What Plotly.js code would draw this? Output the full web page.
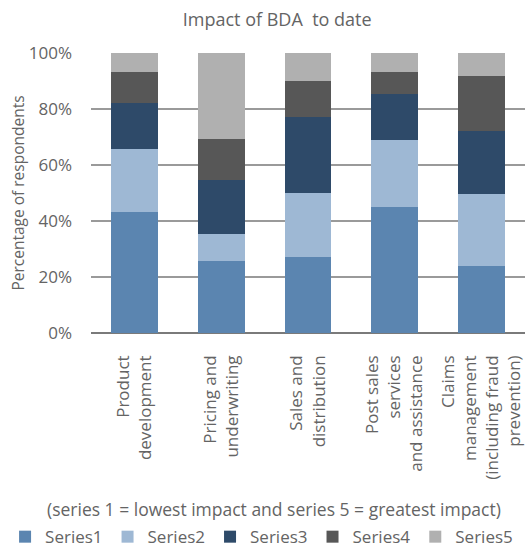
<!DOCTYPE html>
<html>
<head>
<meta charset="utf-8">
<script src="https://cdn.plot.ly/plotly-3.0.1.min.js"></script>
<style>
  html, body { margin: 0; padding: 0; background: #ffffff; }
  #chart { width: 530px; height: 557px; }
</style>
</head>
<body>
<div id="chart"></div>
<script>
// Business areas (x categories)
const categories = [
  "Product<br>development",
  "Pricing and<br>underwriting",
  "Sales and<br>distribution",
  "Post sales<br>services<br>and assistance",
  "Claims<br>management<br>(including fraud<br>prevention)"
];

// Share of respondents per impact level (fractions of 1)
const series1 = [0.432, 0.257, 0.271, 0.450, 0.239];
const series2 = [0.225, 0.096, 0.229, 0.240, 0.257];
const series3 = [0.165, 0.194, 0.272, 0.164, 0.226];
const series4 = [0.111, 0.146, 0.129, 0.079, 0.197];
const series5 = [0.067, 0.307, 0.099, 0.067, 0.081];

const seriesNames = ["Series1", "Series2", "Series3", "Series4", "Series5"];
const seriesColors = ["#5b85b0", "#9eb8d4", "#2e4a69", "#575757", "#b0b0b0"];

const yTickVals = [0, 0.2, 0.4, 0.6, 0.8, 1.0];
const yTickText = ["0%", "20%", "40%", "60%", "80%", "100%"];

const FONT = "Open Sans, Lato, sans-serif";
const TEXT = "#646464";

const values = [series1, series2, series3, series4, series5];
const traces = values.map((v, i) => ({
  type: "bar",
  name: seriesNames[i],
  x: categories,
  y: v,
  marker: { color: seriesColors[i], line: { width: 0 } },
  hoverinfo: "skip"
}));

const layout = {
  width: 530,
  height: 557,
  barmode: "stack",
  bargap: 0.46,
  paper_bgcolor: "#ffffff",
  plot_bgcolor: "#ffffff",
  margin: { l: 91, r: 5, t: 53, b: 224, pad: 0, autoexpand: false },
  font: { family: FONT, color: TEXT, size: 14 },
  title: {
    text: "Impact of BDA  to date",
    font: { family: FONT, size: 18, color: TEXT },
    x: 0.523, xanchor: "center",
    y: 1 - 20 / 557, yanchor: "middle"
  },
  xaxis: {
    type: "category",
    automargin: false,
    tickangle: -90,
    ticks: "",
    ticklabelstandoff: 18,
    tickfont: { family: FONT, size: 17, color: TEXT },
    showgrid: false,
    showline: false,
    zeroline: false
  },
  yaxis: {
    range: [0, 1],
    automargin: false,
    tickvals: yTickVals,
    ticktext: yTickText,
    ticks: "",
    ticklabelstandoff: 18,
    tickfont: { family: FONT, size: 17, color: TEXT },
    showgrid: true,
    gridcolor: "#9a9a9a",
    gridwidth: 1.5,
    zeroline: true,
    zerolinecolor: "#7a7a7a",
    zerolinewidth: 2,
    showline: false,
    title: {
      text: "Percentage of respondents",
      font: { family: FONT, size: 15.5, color: TEXT },
      standoff: 0
    }
  },
  showlegend: true,
  legend: {
    orientation: "h",
    x: -0.198, xanchor: "left",
    y: -0.729, yanchor: "middle",
    font: { family: FONT, size: 17, color: TEXT },
    traceorder: "normal"
  },
  annotations: [{
    text: "(series 1 = lowest impact and series 5 = greatest impact)",
    xref: "paper", yref: "paper",
    x: 0.4217, y: -0.629,
    xanchor: "center", yanchor: "middle",
    showarrow: false,
    font: { family: FONT, size: 17.5, color: TEXT }
  }]
};

Plotly.newPlot("chart", traces, layout, { displayModeBar: false, staticPlot: true });
</script>
</body>
</html>
